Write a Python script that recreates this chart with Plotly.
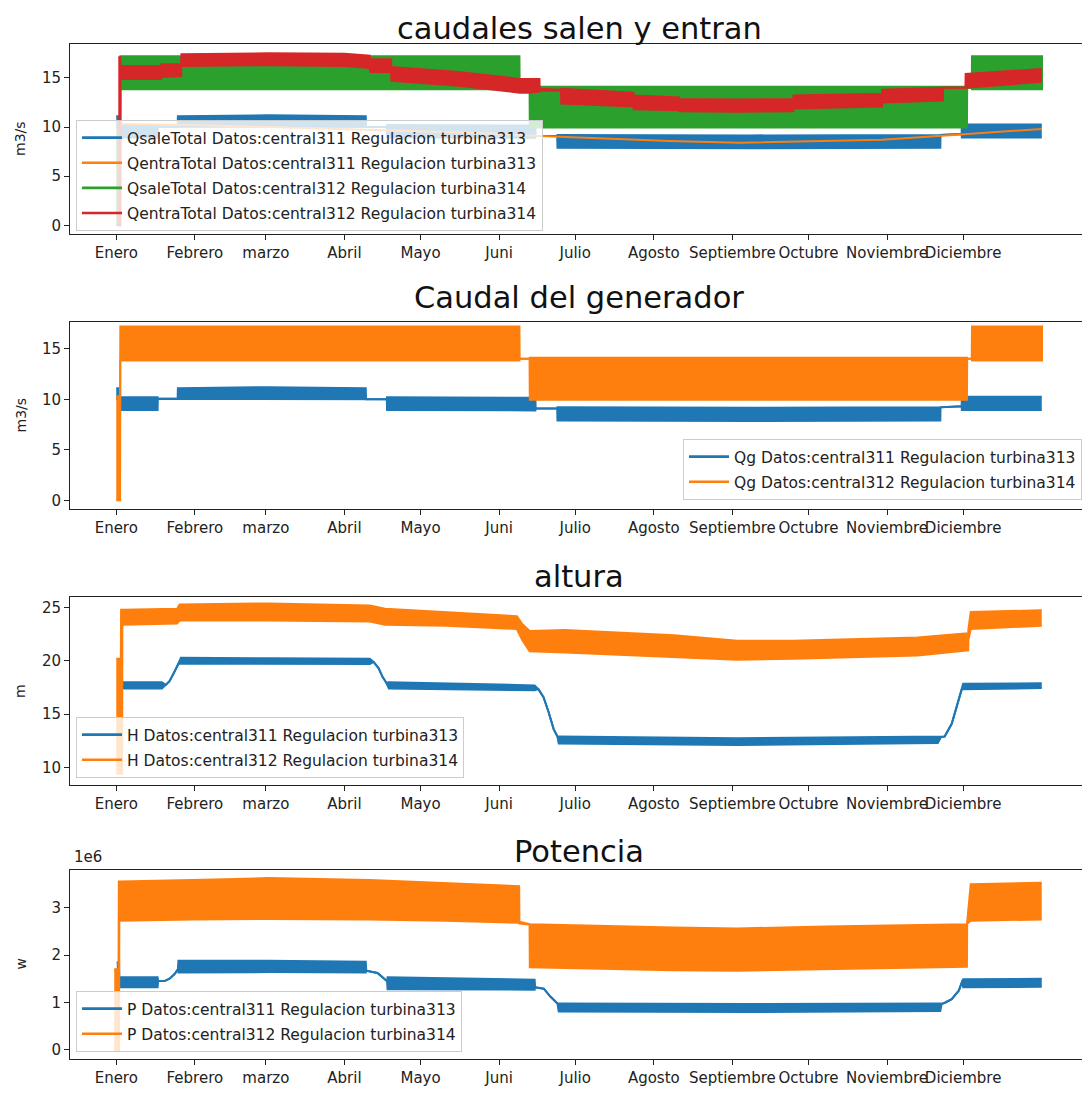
import plotly.graph_objects as go

# page is 1090x1093 but the html body adds an 8px margin, so the figure is drawn 8px in
OFF = 8
W, H = 1090 - OFF, 1093 - OFF
BLUE = '#1f77b4'; ORANGE = '#ff7f0e'; GREEN = '#2ca02c'; RED = '#d62728'
FONT = 'DejaVu Sans'

# ---- x axis: days of the year, ticks at month starts ----
month_days = [0, 31, 59, 90, 120, 151, 181, 212, 243, 273, 304, 334]
month_labels = ['Enero', 'Febrero', 'marzo', 'Abril', 'Mayo', 'Juni', 'Julio',
                'Agosto', 'Septiembre', 'Octubre', 'Noviembre', 'Diciembre']

# ---- central311 flow (QsaleTotal / Qg), envelope of hourly oscillation (m3/s) ----
q311_x  = [0, 0.8, 1.2, 16.3, 16.4, 24.2, 24.3, 60, 98.4, 98.5, 106.7, 106.8, 165.3, 165.4, 173.9, 174, 250, 325, 325.1, 333.4, 333.5, 365]
q311_lo = [10.0, 10.0, 8.95, 8.95, 10.05, 10.05, 10.0, 10.0, 10.0, 10.0, 10.0, 8.95, 8.9, 9.1, 9.1, 7.9, 7.85, 7.9, 9.2, 9.3, 8.95, 8.95]
q311_hi = [11.1, 11.1, 10.2, 10.2, 10.05, 10.05, 11.1, 11.2, 11.1, 10.0, 10.0, 10.2, 10.15, 9.1, 9.1, 9.2, 9.15, 9.2, 9.2, 9.3, 10.25, 10.25]

# ---- central311 inflow QentraTotal (thin line) ----
qin311_x = [0.5, 30, 60, 90, 120, 150, 162, 190, 218, 246, 274, 302, 330, 365]
qin311_y = [10.3, 10.2, 10.0, 9.8, 9.6, 9.35, 9.15, 8.85, 8.57, 8.4, 8.55, 8.7, 9.2, 9.8]

# ---- central312 flow (QsaleTotal / Qg) ----
q312_x  = [0, 1.5, 1.6, 159, 159.1, 163, 163.1, 335.5, 335.6, 337.4, 337.5, 365.5]
q312_lo = [0, 0, 13.85, 13.85, 14.0, 14.0, 9.95, 9.95, 14.0, 14.0, 13.85, 13.85]
q312_hi = [10.3, 10.3, 17.2, 17.2, 14.0, 14.0, 14.1, 14.1, 14.0, 14.0, 17.2, 17.2]

# ---- central312 inflow QentraTotal ----
qin312_x  = [0.8, 1.6, 1.7, 17.7, 17.8, 25.6, 25.7, 60, 90, 100, 100.1, 108.4, 108.5, 135, 159, 163, 166.9,
             167, 175.4, 175.5, 204, 204.1, 222, 222.1, 245, 267, 267.1, 302, 302.1, 326, 326.1, 334.9, 335, 365]
qin312_lo = [0, 0, 14.9, 14.9, 15.1, 15.2, 16.2, 16.3, 16.2, 16.0, 15.6, 15.6, 14.7, 14.2, 13.5, 13.5, 13.6,
             13.7, 13.7, 12.4, 12.1, 11.8, 11.7, 11.6, 11.55, 11.6, 11.9, 12.1, 12.5, 12.7, 14.0, 14.0, 14.0, 14.6]
qin312_hi = [17.1, 17.1, 16.2, 16.2, 16.4, 16.4, 17.4, 17.5, 17.45, 17.25, 16.9, 16.9, 16.1, 15.6, 14.9, 14.9, 14.9,
             13.9, 13.8, 13.9, 13.5, 13.2, 13.0, 12.85, 12.8, 12.85, 13.2, 13.4, 13.8, 14.0, 14.0, 14.0, 15.4, 15.9]

# ---- head H (m) ----
h311_x  = [0.3, 18, 19.5, 21, 23, 24.5, 25.5, 60, 100, 101.5, 103.5, 105, 106.5, 107.5, 140, 165, 166.5, 168.5, 170.5, 172.5, 174, 174.5, 245, 324, 325.3, 326.7, 329.5, 332.3, 333.7, 334, 365]
h311_lo = [17.4, 17.4, 17.75, 18.1, 19.0, 19.7, 19.75, 19.7, 19.7, 19.9, 19.3, 18.5, 17.95, 17.4, 17.35, 17.25, 17.35, 16.6, 15.2, 13.6, 12.9, 12.25, 12.1, 12.3, 12.85, 12.9, 14.1, 16.3, 17.5, 17.35, 17.45]
h311_hi = [18.0, 18.0, 17.75, 18.1, 19.0, 19.7, 20.3, 20.25, 20.2, 19.9, 19.3, 18.5, 17.95, 18.0, 17.85, 17.7, 17.35, 16.6, 15.2, 13.6, 12.9, 12.9, 12.75, 12.9, 12.85, 12.9, 14.1, 16.3, 17.5, 17.85, 17.9]

h312_x  = [0, 1.8, 1.9, 2.3, 2.4, 24, 25, 60, 100, 106, 130, 158, 160, 163, 177, 220, 245, 267, 316, 336, 336.1, 337, 365]
h312_lo = [9.4, 9.4, 9.4, 9.4, 23.4, 23.5, 23.8, 23.8, 23.7, 23.4, 23.3, 23.0, 22.0, 20.9, 20.8, 20.4, 20.1, 20.2, 20.5, 21.0, 22.0, 23.0, 23.3]
h312_hi = [20.2, 20.2, 24.8, 24.8, 24.8, 24.9, 25.3, 25.4, 25.2, 24.9, 24.6, 24.2, 23.5, 22.8, 22.9, 22.4, 21.9, 21.9, 22.2, 22.6, 23.0, 24.6, 24.75]

# ---- power P (W) ----
p311_x  = [0.2, 1.1, 1.2, 16.3, 16.5, 19, 21, 23, 24.3, 24.5, 60, 98.4, 98.6, 103, 105, 106.8, 107, 165, 165.2, 168.6, 171.3, 174, 174.5, 250, 325, 325.5, 327, 329.5, 332.3, 333.7, 334, 365]
p311_lo = [1.4e6, 1.4e6, 1.32e6, 1.32e6, 1.45e6, 1.45e6, 1.5e6, 1.6e6, 1.7e6, 1.63e6, 1.64e6, 1.63e6, 1.67e6, 1.62e6, 1.53e6, 1.45e6, 1.28e6, 1.27e6, 1.32e6, 1.29e6, 1.12e6, 0.98e6, 0.81e6, 0.8e6, 0.82e6, 0.97e6, 1.0e6, 1.07e6, 1.25e6, 1.46e6, 1.32e6, 1.33e6]
p311_hi = [1.85e6, 1.85e6, 1.53e6, 1.53e6, 1.45e6, 1.45e6, 1.5e6, 1.6e6, 1.7e6, 1.88e6, 1.88e6, 1.86e6, 1.67e6, 1.62e6, 1.53e6, 1.45e6, 1.53e6, 1.48e6, 1.32e6, 1.29e6, 1.12e6, 0.98e6, 0.98e6, 0.97e6, 0.98e6, 0.97e6, 1.0e6, 1.07e6, 1.25e6, 1.46e6, 1.49e6, 1.5e6]

p312_x  = [-0.8, 0.9, 1.0, 1.1, 1.2, 30, 60, 100, 130, 158.9, 159, 163, 163.1, 220, 245, 280, 335.5, 335.6, 337, 365]
p312_lo = [0, 0, 0, 0, 2.72e6, 2.75e6, 2.76e6, 2.75e6, 2.72e6, 2.68e6, 2.66e6, 2.64e6, 1.74e6, 1.68e6, 1.67e6, 1.7e6, 1.75e6, 2.66e6, 2.72e6, 2.75e6]
p312_hi = [1.7e6, 1.7e6, 3.55e6, 3.55e6, 3.55e6, 3.58e6, 3.62e6, 3.58e6, 3.52e6, 3.45e6, 2.7e6, 2.66e6, 2.65e6, 2.58e6, 2.56e6, 2.6e6, 2.65e6, 2.7e6, 3.49e6, 3.52e6]

# ---- layout geometry (pixels of the 1090x1093 page) ----
X0, X1 = 70, 1088
frames = [(44, 234), (322, 509), (597, 785), (870, 1059)]
yranges = [[-0.88, 18.45], [-0.86, 17.65], [8.35, 26.0], [-0.19e6, 3.79e6]]
titles = ['caudales salen y entran', 'Caudal del generador', 'altura', 'Potencia']
title_y = [28, 298, 576, 851]
ylabels = ['m3/s', 'm3/s', 'm', 'w']


def fx(px):
    return (px - OFF) / W


def fy(py):
    return 1 - (py - OFF) / H


fig = go.Figure()


def band(i, x, lo, hi, color, lw=2.0):
    ax = '' if i == 0 else str(i + 1)
    fig.add_trace(go.Scatter(x=x, y=lo, mode='lines', line=dict(color=color, width=lw),
                             xaxis='x' + ax, yaxis='y' + ax, showlegend=False, hoverinfo='skip'))
    fig.add_trace(go.Scatter(x=x, y=hi, mode='lines', line=dict(color=color, width=lw),
                             fill='tonexty', fillcolor=color,
                             xaxis='x' + ax, yaxis='y' + ax, showlegend=False, hoverinfo='skip'))


def line(i, x, y, color, lw=2.0):
    ax = '' if i == 0 else str(i + 1)
    fig.add_trace(go.Scatter(x=x, y=y, mode='lines', line=dict(color=color, width=lw),
                             xaxis='x' + ax, yaxis='y' + ax, showlegend=False, hoverinfo='skip'))


def legend_entry(i, name, color):
    ax = '' if i == 0 else str(i + 1)
    lg = 'legend' if i == 0 else 'legend' + str(i + 1)
    fig.add_trace(go.Scatter(x=[None], y=[None], mode='lines', name=name,
                             line=dict(color=color, width=2.6), legendgroup=name + str(i),
                             xaxis='x' + ax, yaxis='y' + ax, legend=lg))


# panel 1
band(0, q311_x, q311_lo, q311_hi, BLUE)
line(0, qin311_x, qin311_y, ORANGE)
band(0, q312_x, q312_lo, q312_hi, GREEN)
band(0, qin312_x, qin312_lo, qin312_hi, RED)
legend_entry(0, 'QsaleTotal Datos:central311 Regulacion turbina313', BLUE)
legend_entry(0, 'QentraTotal Datos:central311 Regulacion turbina313', ORANGE)
legend_entry(0, 'QsaleTotal Datos:central312 Regulacion turbina314', GREEN)
legend_entry(0, 'QentraTotal Datos:central312 Regulacion turbina314', RED)

# panel 2
band(1, q311_x, q311_lo, q311_hi, BLUE)
band(1, q312_x, q312_lo, q312_hi, ORANGE)
legend_entry(1, 'Qg Datos:central311 Regulacion turbina313', BLUE)
legend_entry(1, 'Qg Datos:central312 Regulacion turbina314', ORANGE)

# panel 3
band(2, h311_x, h311_lo, h311_hi, BLUE)
band(2, h312_x, h312_lo, h312_hi, ORANGE)
legend_entry(2, 'H Datos:central311 Regulacion turbina313', BLUE)
legend_entry(2, 'H Datos:central312 Regulacion turbina314', ORANGE)

# panel 4
band(3, p311_x, p311_lo, p311_hi, BLUE)
band(3, p312_x, p312_lo, p312_hi, ORANGE)
legend_entry(3, 'P Datos:central311 Regulacion turbina313', BLUE)
legend_entry(3, 'P Datos:central312 Regulacion turbina314', ORANGE)

tickfont = dict(family=FONT, size=15, color='#222')
layout = dict(width=W, height=H, margin=dict(l=0, r=0, t=0, b=0),
              paper_bgcolor='white', plot_bgcolor='white', showlegend=True,
              font=dict(family=FONT, color='#222'))
annotations = []
for i, (top, bot) in enumerate(frames):
    ax = '' if i == 0 else str(i + 1)
    layout['xaxis' + ax] = dict(domain=[fx(X0), fx(X1)], range=[-18.25, 383.25],
                                tickmode='array', tickvals=month_days, ticktext=month_labels,
                                tickangle=0,
                                ticks='outside', ticklen=5, tickcolor='#222', tickwidth=1,
                                showline=True, linecolor='#222', linewidth=1, mirror=True,
                                showgrid=False, zeroline=False, tickfont=tickfont,
                                anchor='y' + ax, fixedrange=True)
    ydict = dict(domain=[fy(bot), fy(top)], range=yranges[i],
                 ticks='outside', ticklen=5, tickcolor='#222', tickwidth=1,
                 showline=True, linecolor='#222', linewidth=1, mirror=True,
                 showgrid=False, zeroline=False, tickfont=tickfont,
                 anchor='x' + ax, fixedrange=True)
    if i == 3:
        ydict.update(tickmode='array', tickvals=[0, 1e6, 2e6, 3e6], ticktext=['0', '1', '2', '3'])
    else:
        ydict.update(dtick=5)
    layout['yaxis' + ax] = ydict
    annotations.append(dict(text=titles[i], x=fx((X0 + X1) / 2), y=fy(title_y[i]),
                            xref='paper', yref='paper', showarrow=False,
                            font=dict(family=FONT, size=30.5, color='#111'),
                            xanchor='center', yanchor='middle'))
    annotations.append(dict(text=ylabels[i], x=fx(20), y=fy((top + bot) / 2),
                            xref='paper', yref='paper', showarrow=False, textangle=-90,
                            font=dict(family=FONT, size=14, color='#222'),
                            xanchor='center', yanchor='middle'))
annotations.append(dict(text='1e6', x=fx(72), y=fy(857), xref='paper', yref='paper',
                        showarrow=False, font=dict(family=FONT, size=15, color='#222'),
                        xanchor='left', yanchor='middle'))
layout['annotations'] = annotations

legend_style = dict(bgcolor='rgba(255,255,255,0.8)', bordercolor='#cccccc', borderwidth=1,
                    font=dict(family=FONT, size=15.5, color='#222'), itemwidth=40,
                    tracegroupgap=2)
layout['legend'] = dict(x=fx(76), y=fy(120), xanchor='left', yanchor='top', **legend_style)
layout['legend2'] = dict(x=fx(1082), y=fy(500), xanchor='right', yanchor='bottom', **legend_style)
layout['legend3'] = dict(x=fx(76), y=fy(778), xanchor='left', yanchor='bottom', **legend_style)
layout['legend4'] = dict(x=fx(76), y=fy(1052), xanchor='left', yanchor='bottom', **legend_style)

fig.update_layout(**layout)
fig.write_html("out.html")
